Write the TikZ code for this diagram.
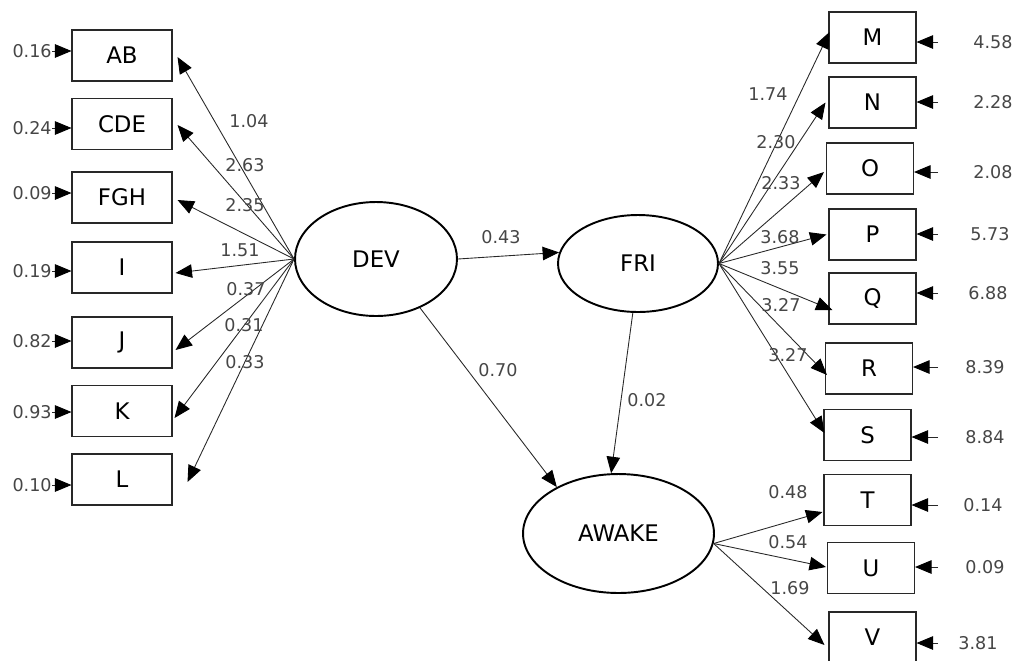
\documentclass[tikz,border=0pt]{standalone}
\usepackage{fontspec}
\setmainfont{DejaVu Sans}
\usetikzlibrary{shapes.geometric, arrows.meta, positioning}
\definecolor{mydark}{RGB}{40,40,40}
\definecolor{mygrey}{RGB}{70,70,70}
\tikzset{
  obsbox/.style={rectangle, draw=mydark, line width=0.6pt,
    minimum width=2cm, minimum height=1.02cm, inner sep=0pt,
    font=\fontsize{13}{15}\selectfont},
  latent/.style={ellipse, draw=black, line width=1.1pt, inner sep=0pt,
    font=\fontsize{13}{15}\selectfont},
  coef/.style={font=\fontsize{10}{12}\selectfont, text=mygrey, inner sep=0pt},
  arrow/.style={-{Triangle[length=0.33cm, width=0.27cm, color=black]}, line width=0.5pt, color=mydark}
}
\begin{document}
\begin{tikzpicture}[x=0.02cm, y=-0.02cm]
  \clip (0,0) rectangle (1016,660);
  % Latent variables
  \node[latent, minimum width=3.24cm, minimum height=2.28cm] (DEV) at (376,259) {DEV};
  \node[latent, minimum width=3.2cm, minimum height=1.94cm] (FRI) at (638,263.5) {FRI};
  \node[latent, minimum width=3.82cm, minimum height=2.38cm] (AWAKE) at (618.5,533.5) {AWAKE};

  % Indicators of DEV
  \foreach \nm/\y in {AB/55.5, CDE/124, FGH/197.5, I/267.5, J/342.5, K/411, L/479.5} {
    \node[obsbox] (\nm) at (122,\y) {\nm};
  }
  % Indicators of FRI and AWAKE
  \foreach \nm/\x/\y in {M/872.5/37.5, N/872.5/102.5, O/870/168.5, P/872.5/234.5,
      Q/872.5/298.5, R/869/368.5, S/867.5/435, T/867.5/500, U/871/568, V/872.5/637.5} {
    \node[obsbox, minimum width=1.74cm] (\nm) at (\x,\y) {\nm};
  }

  % Error terms, left
  \foreach \nm/\y/\val in {AB/51/0.16, CDE/128/0.24, FGH/193/0.09, I/271/0.19,
      J/341/0.82, K/412/0.93, L/485/0.10} {
    \node[coef, anchor=east] (e\nm) at (52,\y) {\val};
    \draw[arrow] (e\nm.east) -- (e\nm.east -| \nm.west);
  }
  % Error terms, right
  \foreach \nm/\y/\xl/\val in {M/42/993/4.58, N/102/993/2.28, O/172/993/2.08,
      P/234/990/5.73, Q/293/988/6.88, R/367/985/8.39, S/437/985/8.84,
      T/505/983/0.14, U/567/985/0.09, V/643/978/3.81} {
    \coordinate (t\nm) at (938,\y);
    \node[coef] (e\nm) at (\xl,\y) {\val};
    \draw[arrow] (t\nm) -- (t\nm -| \nm.east);
  }

  % Loadings
  \foreach \nm/\dx/\dy in {AB/5/1.5, CDE/5/1, FGH/5/2.5, I/3/5.5, J/3/7.5, K/2/7, L/15/2.5} {
    \draw[arrow] (DEV.west) -- ([shift={(\dx,\dy)}]\nm.east);
  }
  \foreach \nm/\dx/\dy in {M/1/-5.5, N/-3/0, O/-2/3.5, P/-2/0, Q/4/11.5, R/2/6.5, S/1/-2} {
    \draw[arrow] (FRI.east) -- ([shift={(\dx,\dy)}]\nm.west);
  }
  \foreach \nm/\dx/\dy in {T/-1/12, U/-1/-1, V/-4/7.5} {
    \draw[arrow] (AWAKE.-6) -- ([shift={(\dx,\dy)}]\nm.west);
  }

  % Structural paths
  \draw[arrow] (DEV.east) -- (FRI.172);
  \draw[arrow] (DEV.-48) -- (AWAKE.143);
  \draw[arrow] (FRI.-96) -- (AWAKE.97);

  % Coefficients
  \foreach \nm/\x/\y/\val in {AB/249/121/1.04, CDE/245/165/2.63, FGH/245/205/2.35,
      I/240/250/1.51, J/246/289/0.37, K/244/325/0.31, L/245/362/0.33,
      M/768/94/1.74, N/776/142/2.30, O/781/183/2.33, P/780/237/3.68,
      Q/780/268/3.55, R/781/305/3.27, S/788/355/3.27,
      T/788/492/0.48, U/788/542/0.54, V/790/588/1.69,
      DF/501/237/0.43, DA/498/370/0.70, FA/647/400/0.02} {
    \node[coef] (c\nm) at (\x,\y) {\val};
  }
\end{tikzpicture}
\end{document}
